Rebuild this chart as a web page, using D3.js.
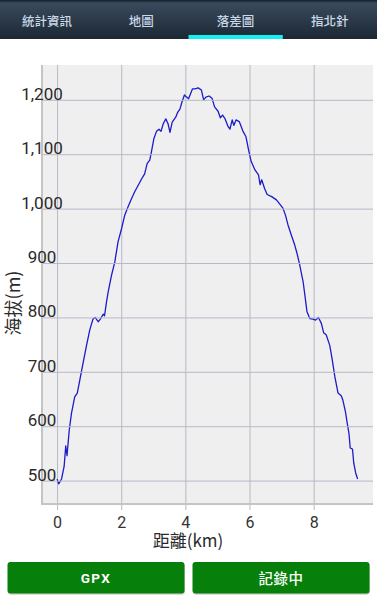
<!DOCTYPE html>
<html><head><meta charset="utf-8">
<script src="https://cdn.jsdelivr.net/npm/d3@7"></script>
<style>
html,body{margin:0;padding:0;background:#fff;width:377px;height:600px;overflow:hidden;}
svg{display:block;}
</style></head>
<body>
<svg id="c" width="377" height="600"></svg>
<script>
// ---- data ----
const tabs = ["統計資訊", "地圖", "落差圖", "指北針"];
const activeTab = 2;
const distKm = [0.00,0.05,0.14,0.22,0.27,0.31,0.38,0.45,0.55,0.63,0.71,0.81,0.92,1.02,1.12,1.19,1.28,1.35,1.44,1.48,1.54,1.60,1.70,1.80,1.90,2.01,2.11,2.21,2.32,2.42,2.53,2.63,2.73,2.81,2.89,2.94,3.02,3.10,3.18,3.24,3.31,3.39,3.46,3.52,3.59,3.70,3.76,3.83,3.89,3.97,4.04,4.10,4.22,4.30,4.40,4.50,4.57,4.64,4.74,4.83,4.91,5.02,5.09,5.16,5.23,5.33,5.39,5.46,5.51,5.58,5.68,5.79,5.89,5.97,6.05,6.17,6.28,6.33,6.38,6.47,6.55,6.69,6.84,6.92,7.04,7.12,7.20,7.30,7.41,7.48,7.56,7.67,7.73,7.79,7.88,7.98,8.06,8.15,8.24,8.31,8.39,8.50,8.58,8.66,8.76,8.86,8.91,8.99,9.04,9.10,9.14,9.21,9.25,9.31,9.37];
const elevM = [503,494,503,526,564,546,593,624,654,661,685,716,749,777,797,800,792,797,806,803,828,849,878,902,939,963,988,1003,1018,1031,1043,1054,1064,1083,1089,1104,1129,1142,1146,1142,1156,1165,1156,1140,1159,1168,1177,1183,1195,1209,1205,1202,1220,1220,1222,1218,1200,1205,1207,1203,1187,1179,1167,1172,1166,1151,1146,1163,1153,1163,1160,1143,1132,1108,1087,1071,1062,1044,1053,1037,1026,1022,1016,1010,1001,988,970,952,933,918,898,866,839,811,798,797,795,800,789,772,768,749,722,691,661,656,648,627,608,587,560,558,532,514,503];
const xTicks = [0, 2, 4, 6, 8];
const yTicks = [500, 600, 700, 800, 900, 1000, 1100, 1200];
const xTitle = "距離(km)";
const yTitle = "海拔(m)";
const buttons = ["GPX", "記錄中"];

(function(){
const svg = d3.select("#c");
const W = 377;
const font = "Roboto, 'Noto Sans CJK TC', sans-serif";

// ---- header ----
const defs = svg.append("defs");
const g1 = defs.append("linearGradient").attr("id","hdr").attr("x1",0).attr("y1",0).attr("x2",0).attr("y2",1);
g1.append("stop").attr("offset","0").attr("stop-color","#141d27");
g1.append("stop").attr("offset","0.08").attr("stop-color","#3a4a5c");
g1.append("stop").attr("offset","1").attr("stop-color","#1b2734");
svg.append("rect").attr("x",0).attr("y",0).attr("width",W).attr("height",39).attr("fill","url(#hdr)");
const tabX = d3.scaleBand().domain(d3.range(tabs.length)).range([0, W]);
svg.selectAll("text.tab").data(tabs).join("text")
  .attr("class","tab")
  .attr("x",(d,i)=>tabX(i)+tabX.bandwidth()/2)
  .attr("y",20.5)
  .attr("text-anchor","middle").attr("dominant-baseline","central")
  .attr("font-family","'Noto Sans CJK TC', sans-serif").attr("font-size",12.5).attr("font-weight",500)
  .attr("fill","#c9d8e6").text(d=>d);
svg.append("rect").attr("x",tabX(activeTab)).attr("y",35).attr("width",tabX.bandwidth()).attr("height",4).attr("fill","#13f0f0");

// ---- plot ----
const pL = 42, pR = 373, pT = 65, pB = 504;
const x = d3.scaleLinear().domain([-0.47, 9.85]).range([pL, pR]);
const y = d3.scaleLinear().domain([457, 1264]).range([pB, pT]);

svg.append("rect").attr("x",pL).attr("y",pT).attr("width",pR-pL).attr("height",pB-pT).attr("fill","#efeff0");

const gx = svg.append("g").attr("transform",`translate(0,${pB})`)
  .call(d3.axisBottom(x).tickValues(xTicks).tickSizeOuter(0).tickFormat(d3.format("d")));
gx.select(".domain").remove();
gx.selectAll("line").attr("stroke","#b8b8c8").attr("y2", -(pB-pT)).attr("y1", 6);
gx.selectAll("text").attr("font-family",font).attr("font-size",16).attr("fill","#333").attr("dy",null).attr("y",24);

const gy = svg.append("g").attr("transform",`translate(${pL},0)`)
  .call(d3.axisLeft(y).tickValues(yTicks).tickSize(-(pR-pL)).tickSizeOuter(0).tickFormat(d3.format(",")));
gy.select(".domain").remove();
gy.selectAll("line").attr("stroke","#b8b8c8");
gy.selectAll("text").attr("font-family",font).attr("font-size",17).attr("fill","#2a2a2a")
  .attr("text-anchor","middle").attr("x",0).attr("dy",null).attr("y",-0.5);

// axis borders
svg.append("line").attr("x1",pL).attr("x2",pL).attr("y1",pT).attr("y2",pB+1).attr("stroke","#c4c4c4").attr("stroke-width",2);
svg.append("line").attr("x1",pL).attr("x2",pR).attr("y1",pB).attr("y2",pB).attr("stroke","#c4c4c4").attr("stroke-width",2);

// line
const pts = distKm.map((d,i)=>[d, elevM[i]]);
svg.append("path").datum(pts)
  .attr("d", d3.line().x(d=>x(d[0])).y(d=>y(d[1])))
  .attr("fill","none").attr("stroke","#1c1cc8").attr("stroke-width",1.3).attr("stroke-linejoin","round");

gy.raise();

// titles
svg.append("text").attr("x",188).attr("y",547).attr("text-anchor","middle")
  .attr("font-family","'Noto Sans CJK TC', sans-serif").attr("font-size",17).attr("fill","#2a2a2a").text(xTitle);
svg.append("text").attr("transform","translate(12,303) rotate(-90)").attr("text-anchor","middle").attr("dominant-baseline","central")
  .attr("font-family","'Noto Sans CJK TC', sans-serif").attr("font-size",18).attr("fill","#2a2a2a").text(yTitle);

// ---- buttons ----
const bx = [7.5, 192.5], bw = 177, by = 562, bh = 31.5;
const bg = svg.selectAll("g.btn").data(buttons).join("g").attr("class","btn");
bg.append("rect").attr("x",(d,i)=>bx[i]+0.5).attr("y",by+1.2).attr("width",bw).attr("height",bh).attr("rx",3).attr("fill","#cfcfcf");
bg.append("rect").attr("x",(d,i)=>bx[i]).attr("y",by).attr("width",bw).attr("height",bh).attr("rx",3).attr("fill","#07800b");
bg.append("text").attr("x",(d,i)=>bx[i]+bw/2).attr("y",by+bh/2).attr("text-anchor","middle").attr("dominant-baseline","central")
  .attr("font-family",(d,i)=> i===0 ? "Roboto, sans-serif" : "'Noto Sans CJK TC', sans-serif")
  .attr("font-size",(d,i)=> i===0 ? 13.5 : 14.5).attr("font-weight",(d,i)=> i===0 ? 700 : 500)
  .attr("letter-spacing",(d,i)=> i===0 ? 1.5 : 0.5)
  .attr("fill","#fff").text(d=>d);
})();
</script>
</body></html>
